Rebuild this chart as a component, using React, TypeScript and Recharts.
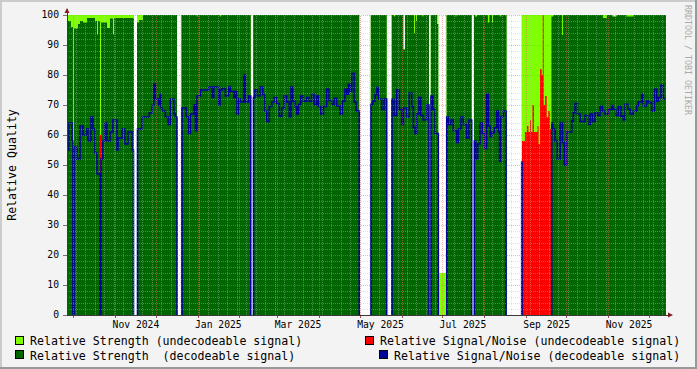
import React from 'react';
import { ComposedChart, Area, Line, XAxis, YAxis, ReferenceLine } from 'recharts';

type Pt = [number, number | null];

// x = days since 2024-09-26, y = relative quality (%)
const strengthUndecodeable: Pt[] = [
  [0, 100], [49.6, 100], [49.7, null],
  [51.8, 100], [81.4, 100], [81.5, null],
  [84.7, 100], [136.0, 100], [136.1, null],
  [137.8, 100], [216.3, 100], [216.4, null],
  [224.8, 100], [236.6, 100], [236.7, null],
  [240.3, 100], [248.9, 88.5], [250.1, 100], [267.9, 100], [268.0, null],
  [269.2, 100], [274.8, 100], [274.9, null],
  [275.5, 14], [280.5, 14], [280.6, null],
  [280.9, 100], [299.5, 100], [299.6, null],
  [301.2, 100], [325.3, 100], [325.4, null],
  [336.5, 100], [403.7, 99.5], [406.7, 100], [443.3, 100],
];

const strengthDecodeable: Pt[] = [
  [0, 98], [2.9, 96], [4.4, 0], [5.2, 95.5], [8.1, 97], [9.6, 98], [11.8, 97.5], [14.8, 99],
  [20.7, 98], [22.2, 93.5], [23.0, 98], [24.4, 0], [25.2, 97.5], [29.6, 95.7], [31.8, 98.8],
  [34.0, 93.5], [34.8, 99], [49.6, 99], [49.7, null],
  [51.8, 97.5], [53.3, 98.3], [56.2, 100], [81.4, 100], [81.5, null],
  [84.7, 100], [96.0, 99.5], [96.7, 100], [113.2, 99.5], [113.9, 100], [136.0, 100], [136.1, null],
  [137.8, 100], [216.3, 100], [216.4, null],
  [224.8, 100], [236.6, 100], [236.7, null],
  [240.3, 100], [242.0, 99.5], [242.7, 100], [248.9, 88.5], [250.1, 100], [256.8, 94], [257.5, 100],
  [258.3, 98], [259.0, 100], [263.0, 99.5], [263.7, 100], [267.9, 100], [268.0, null],
  [269.2, 100], [273.8, 97], [274.8, 97], [274.9, null],
  [280.9, 100], [287.5, 99.5], [288.2, 100], [299.5, 100], [299.6, null],
  [301.2, 100], [301.9, 99.5], [303.4, 100], [311.5, 97.5], [312.6, 100], [314.5, 97.5], [315.2, 100],
  [320.4, 99.5], [321.1, 100], [325.3, 100], [325.4, null],
  [358.5, 99.5], [360.0, 100], [366.3, 93.3], [367.0, 100], [396.6, 99], [399.5, 100],
  [403.7, 99.5], [406.7, 100], [414.1, 99.5], [419.2, 100], [443.3, 100],
];

const snrUndecodeable: Pt[] = [
  [24.4, 60], [25.2, 60], [25.3, null],
  [336.7, 58], [338.9, 61], [340.4, 63], [341.5, 61], [342.7, 65], [343.4, 61], [344.5, 70],
  [345.6, 61], [348.2, 63], [349.0, 57], [350.1, 82], [351.3, 80], [352.1, 100], [352.8, 70],
  [353.8, 73], [355.0, 66], [356.2, 68], [357.5, 62], [358.6, 62],
];

const snrDecodeable: Pt[] = [
  [0, 55], [1.5, 64], [3.7, 58], [4.4, 0], [5.2, 56], [7.4, 52], [9.6, 63], [11.8, 60], [14.1, 62],
  [15.5, 58], [17.8, 66], [19.2, 62], [20.7, 54], [22.2, 47], [24.4, 0], [25.2, 52], [26.6, 58],
  [28.1, 64], [29.6, 58], [31.8, 61], [34.0, 65], [37.0, 55], [37.7, 59], [40.7, 62], [42.9, 57],
  [45.1, 61], [48.1, 55], [49.2, 0], [49.4, null],
  [51.8, 0], [52.2, 62], [55.5, 66], [60.9, 67.4], [62.9, 70], [64.2, 77], [65.4, 72], [67.9, 70],
  [68.8, 73.6], [69.6, 69], [70.3, 68], [72.8, 66], [74.8, 63.5], [76.5, 72], [79.0, 67], [80.2, 66],
  [81.4, 0], [81.6, null],
  [84.7, 0], [85.1, 69], [88.1, 66], [90.1, 60.5], [91.3, 67], [93.8, 70], [95.0, 61.5], [96.2, 73],
  [98.7, 75], [104.9, 76], [107.3, 72.5], [108.6, 76], [112.3, 70], [113.2, 75], [114.7, 75.5],
  [117.2, 73], [119.7, 76], [120.9, 74.5], [123.4, 72.5], [124.7, 74.5], [125.8, 67], [126.9, 72],
  [128.3, 71], [130.8, 80], [132.0, 71], [134.5, 73], [136.0, 0], [136.2, null],
  [137.8, 0], [138.0, 72.5], [139.1, 75], [140.8, 73], [142.8, 76], [144.8, 73.5], [146.5, 68],
  [147.8, 64.5], [149.7, 69.5], [151.5, 71], [153.2, 72.5], [155.2, 70.5], [157.1, 66.3], [158.9, 69],
  [160.6, 73], [162.6, 71], [164.5, 66], [165.8, 76], [167.0, 71.3], [168.7, 69.5], [170.0, 67],
  [171.2, 70.2], [173.0, 73], [174.9, 71.3], [177.4, 72.5], [179.3, 71.3], [181.1, 73.6], [182.8, 70.2],
  [184.8, 73], [186.0, 69.5], [187.8, 67], [189.7, 69.5], [192.2, 75.2], [193.9, 71.5], [195.9, 70.2],
  [197.6, 72.2], [199.6, 69.7], [202.0, 67], [203.7, 71.3], [205.7, 75.2], [207.0, 73.6], [208.2, 76.9],
  [209.4, 74.7], [210.7, 80.5], [212.4, 71], [213.9, 68], [216.3, 0], [216.5, null],
  [224.8, 0], [225.0, 70.2], [226.3, 71.3], [228.0, 73.5], [229.4, 75.8], [230.4, 72], [232.9, 68.5],
  [234.6, 72], [236.6, 0], [236.8, null],
  [240.3, 0], [240.5, 71.9], [242.0, 66.5], [244.0, 75], [245.9, 68.5], [247.7, 63.5], [248.9, 69],
  [251.4, 66], [253.3, 74], [255.1, 69.5], [256.3, 62.5], [257.6, 60.5], [258.8, 67], [260.5, 72.5],
  [261.8, 66.5], [263.7, 65], [266.2, 70], [267.9, 0], [268.1, null],
  [269.2, 0], [269.4, 73], [270.7, 68.5], [272.4, 60.5], [274.8, 0], [275.0, null],
  [280.9, 0], [281.1, 66], [282.2, 63.5], [284.2, 65], [285.9, 61.5], [288.4, 57.5], [289.6, 62],
  [291.6, 66], [293.3, 63.5], [295.8, 59], [297.5, 65], [299.5, 0], [299.7, null],
  [301.2, 0], [301.4, 58], [302.5, 52], [303.9, 57], [305.6, 64], [307.3, 60.5], [308.8, 55.5],
  [310.6, 73.6], [311.8, 63], [313.1, 59.5], [314.3, 60.8], [316.2, 62.4], [318.0, 68], [319.2, 61],
  [320.1, 51.3], [320.8, 66], [322.9, 68], [324.9, 0], [325.1, null],
  [336.2, 0], [336.5, 51], [336.8, 0], [337.0, null],
  [358.5, 0], [358.7, 64], [359.6, 62], [361.2, 58], [362.9, 52], [364.9, 64], [366.6, 57.5],
  [368.0, 50], [369.8, 61], [373.5, 64.7], [374.7, 67.4], [376.0, 70.5], [377.7, 67], [379.7, 64.5],
  [383.4, 66.5], [385.4, 63.5], [387.1, 67], [388.8, 64.5], [390.8, 67.4], [392.8, 66.5], [394.5, 69.5],
  [396.2, 68], [398.2, 66.9], [400.6, 68.5], [403.1, 69.8], [404.3, 68.6], [406.1, 66.5], [408.0, 69.5],
  [410.0, 66.3], [411.7, 65], [413.0, 70.2], [415.0, 68.6], [416.7, 67], [419.1, 68], [421.6, 69.8],
  [422.8, 71], [425.3, 73.6], [426.5, 69.7], [429.0, 71.3], [430.7, 70.8], [432.7, 68], [434.6, 75.2],
  [436.4, 71.3], [437.6, 72.5], [439.6, 76.6], [441.3, 72], [443.3, 72],
];

const DAY_SPAN = 443.3;
const monthStartDays = [5, 36, 66, 97, 128, 156, 187, 217, 248, 278, 309, 340, 370, 401, 431];
const labelDays = [51, 112, 171, 232, 293, 355, 416];
const labelTexts = ['Nov 2024', 'Jan 2025', 'Mar 2025', 'May 2025', 'Jul 2025', 'Sep 2025', 'Nov 2025'];
const yMajor = [0, 10, 20, 30, 40, 50, 60, 70, 80, 90, 100];
const yMinor = Array.from({ length: 49 }, (_, i) => 2 + 2 * i).filter((v) => v % 10 !== 0);
const weekDays = Array.from({ length: 63 }, (_, i) => 7 * (i + 1));

const W = 697;
const H = 369;
const MARGIN = { top: 15, right: 31, bottom: 34, left: 0 };
const FONT = '"DejaVu Sans Mono", monospace';
const AXIS = '#3a3a3a';
const GRID = 'rgba(190,190,190,0.42)';
const MGRID = 'rgba(255,96,96,0.5)';

const rows = (pts: Pt[]) => pts.map(([d, v]) => ({ d, v }));

const dotted = (color: string) => (p: any) => (
  <line
    x1={p.x1}
    y1={p.y1}
    x2={p.x2}
    y2={p.y2}
    stroke={color}
    strokeWidth={1}
    strokeDasharray="1 1"
    shapeRendering="crispEdges"
  />
);

const solid = (color: string) => (p: any) => (
  <line x1={p.x1} y1={p.y1} x2={p.x2} y2={p.y2} stroke={color} strokeWidth={1} shapeRendering="crispEdges" />
);

const tickStyle = { fontSize: 9.7, fontFamily: FONT, fill: '#000' };

export default function App() {
  const layer: React.CSSProperties = { position: 'absolute', left: 0, top: 0 };
  return (
    <div style={{ position: 'absolute', left: 0, top: 0, width: W, height: H, background: '#F3F3F3', overflow: 'hidden' }}>
      <div style={{ position: 'absolute', left: 67, top: 15, width: 599, height: 300, background: '#FFFFFF' }} />
      <div style={layer}>
        <ComposedChart width={W} height={H} margin={MARGIN}>
          <XAxis dataKey="d" type="number" domain={[0, DAY_SPAN]} allowDataOverflow ticks={labelDays}
            height={20} axisLine={false} tickLine={false} tick={false} />
          <YAxis type="number" domain={[0, 100]} allowDataOverflow ticks={yMajor} width={67}
            axisLine={false} tickLine={false} tick={false} />
          <Area data={rows(strengthUndecodeable)} dataKey="v" type="stepAfter" fill="#80FF00" fillOpacity={1}
            stroke="none" dot={false} activeDot={false} isAnimationActive={false} />
          <Area data={rows(strengthDecodeable)} dataKey="v" type="stepAfter" fill="#006600" fillOpacity={1}
            stroke="none" dot={false} activeDot={false} isAnimationActive={false} />
          <Area data={rows(snrUndecodeable)} dataKey="v" type="stepAfter" fill="#FF0000" fillOpacity={1}
            stroke="none" dot={false} activeDot={false} isAnimationActive={false} />
          <Line data={rows(snrDecodeable)} dataKey="v" type="stepAfter" stroke="#000099" strokeWidth={1.6}
            dot={false} activeDot={false} isAnimationActive={false} />
        </ComposedChart>
      </div>
      <div style={layer}>
        <ComposedChart width={W} height={H} margin={MARGIN} data={rows(snrDecodeable)}>
          <XAxis dataKey="d" type="number" domain={[0, DAY_SPAN]} allowDataOverflow ticks={labelDays}
            interval={0} height={20} tickLine={false} tickSize={0} tickMargin={6}
            axisLine={{ stroke: AXIS, shapeRendering: 'crispEdges' }}
            tick={tickStyle}
            tickFormatter={(v: number) => labelTexts[labelDays.indexOf(v)] ?? ''} />
          <YAxis type="number" domain={[0, 100]} allowDataOverflow ticks={yMajor} interval={0} width={67}
            tickSize={4} tickMargin={4}
            tickLine={{ stroke: '#777', shapeRendering: 'crispEdges' }}
            axisLine={{ stroke: AXIS, shapeRendering: 'crispEdges' }}
            tick={tickStyle} />
          {yMinor.map((v) => (
            <ReferenceLine key={'ym' + v} y={v} shape={dotted(GRID)} />
          ))}
          {weekDays.map((d) => (
            <ReferenceLine key={'wk' + d} x={d} shape={dotted(GRID)} />
          ))}
          {yMajor.filter((v) => v > 0).map((v) => (
            <ReferenceLine key={'yM' + v} y={v} shape={dotted(MGRID)} />
          ))}
          {monthStartDays.map((d) => (
            <ReferenceLine key={'mo' + d} x={d} shape={dotted(MGRID)} />
          ))}
          {monthStartDays.map((d) => (
            <ReferenceLine key={'mt' + d} ifOverflow="visible"
              segment={[{ x: d, y: 0 }, { x: d, y: -1 }]} shape={solid('#a05050')} />
          ))}
        </ComposedChart>
      </div>
      <svg width={W} height={H} style={{ ...layer, pointerEvents: 'none' }}>
        <rect x={0} y={0} width={W} height={2} fill="#CBCBCB" />
        <rect x={0} y={0} width={2} height={H} fill="#CBCBCB" />
        <rect x={W - 2} y={0} width={2} height={H} fill="#999999" />
        <rect x={0} y={H - 2} width={W} height={2} fill="#999999" />
        <line x1={67} y1={9} x2={67} y2={15} stroke={AXIS} shapeRendering="crispEdges" />
        <polygon points="64.5,13 69.5,13 67,8" fill="#7F1F1F" />
        <line x1={666} y1={315} x2={670} y2={315} stroke={AXIS} shapeRendering="crispEdges" />
        <polygon points="668,312.5 668,317.5 673,315" fill="#7F1F1F" />
        <text transform="translate(16,165) rotate(-90)" textAnchor="middle" fontSize={11.6} fontFamily={FONT} fill="#000">
          Relative Quality
        </text>
        <text transform="translate(685,5) rotate(90)" fontSize={8.3} fontFamily={FONT} fill="#AAAAAA">
          RRDTOOL / TOBI OETIKER
        </text>
        <g fontFamily={FONT} fontSize={11.6} fill="#000" style={{ whiteSpace: 'pre' }}>
          <rect x={15.5} y={336.5} width={8} height={8} fill="#80FF00" stroke="#000" />
          <text x={30} y={345} xmlSpace="preserve">Relative Strength (undecodeable signal)</text>
          <rect x={365.5} y={336.5} width={8} height={8} fill="#FF0000" stroke="#000" />
          <text x={380} y={345} xmlSpace="preserve">Relative Signal/Noise (undecodeable signal)</text>
          <rect x={15.5} y={350.5} width={8} height={8} fill="#006600" stroke="#000" />
          <text x={30} y={359.5} xmlSpace="preserve">Relative Strength  (decodeable signal)</text>
          <rect x={379.5} y={350.5} width={8} height={8} fill="#000099" stroke="#000" />
          <text x={394} y={359.5} xmlSpace="preserve">Relative Signal/Noise (decodeable signal)</text>
        </g>
      </svg>
    </div>
  );
}
